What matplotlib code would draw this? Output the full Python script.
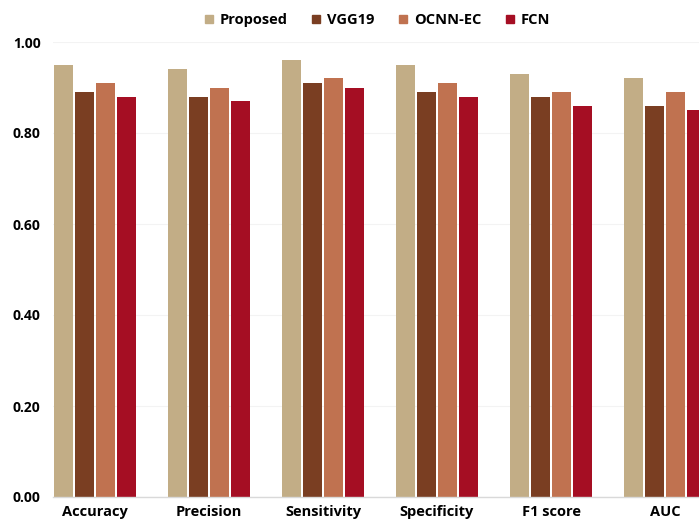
import numpy as np
import matplotlib.pyplot as plt
from matplotlib.lines import Line2D

categories = ['Accuracy', 'Precision', 'Sensitivity', 'Specificity', 'F1 score', 'AUC']
series = ['Proposed', 'VGG19', 'OCNN-EC', 'FCN']
proposed = [0.95, 0.94, 0.96, 0.95, 0.93, 0.92]
vgg19 = [0.89, 0.88, 0.91, 0.89, 0.88, 0.86]
ocnn_ec = [0.91, 0.90, 0.92, 0.91, 0.89, 0.89]
fcn = [0.88, 0.87, 0.90, 0.88, 0.86, 0.85]
yticks = [0.0, 0.2, 0.4, 0.6, 0.8, 1.0]

colors = ['#C2AD86', '#7A3E22', '#C07250', '#A50E23']
values = [proposed, vgg19, ocnn_ec, fcn]

plt.rcParams['font.family'] = ['Open Sans', 'DejaVu Sans']

fig = plt.figure(figsize=(6.99, 5.21), dpi=100)
W, H = 699, 521
ax = fig.add_axes([53 / W, 1 - 497 / H, 1 - 53 / W, (497 - 42) / H])

x = np.arange(len(categories))
bw = 0.166
step = 0.184
for i, (vals, c) in enumerate(zip(values, colors)):
    ax.bar(x + (i - 1.5) * step, vals, width=bw, color=c, zorder=2)

ax.set_xlim(-0.368, 5.298)
ax.set_ylim(0, 1.0)
ax.set_yticks(yticks)
ax.set_yticklabels([f'{t:.2f}' for t in yticks], fontsize=10, fontweight='bold')
ax.set_xticks(x)
ax.set_xticklabels(categories, fontsize=10.5, fontweight='bold')
ax.tick_params(axis='both', length=0)
ax.tick_params(axis='y', pad=9)
ax.tick_params(axis='x', pad=6)
ax.yaxis.grid(True, color='#F3F3F3', lw=0.8, zorder=0)
for s in ['top', 'right', 'left']:
    ax.spines[s].set_visible(False)
ax.spines['bottom'].set_color('#D9D9D9')
ax.spines['bottom'].set_linewidth(1)

handles = [Line2D([], [], marker='s', ls='', color=c, markersize=5.5) for c in colors]
fig.legend(handles, series, loc='center', bbox_to_anchor=(377 / W, 1 - 20 / H), ncol=4,
           frameon=False, prop={'weight': 'bold', 'size': 10.5}, handlelength=0.7,
           handletextpad=0.4, columnspacing=1.6)

fig.savefig('out.png', dpi=100)
